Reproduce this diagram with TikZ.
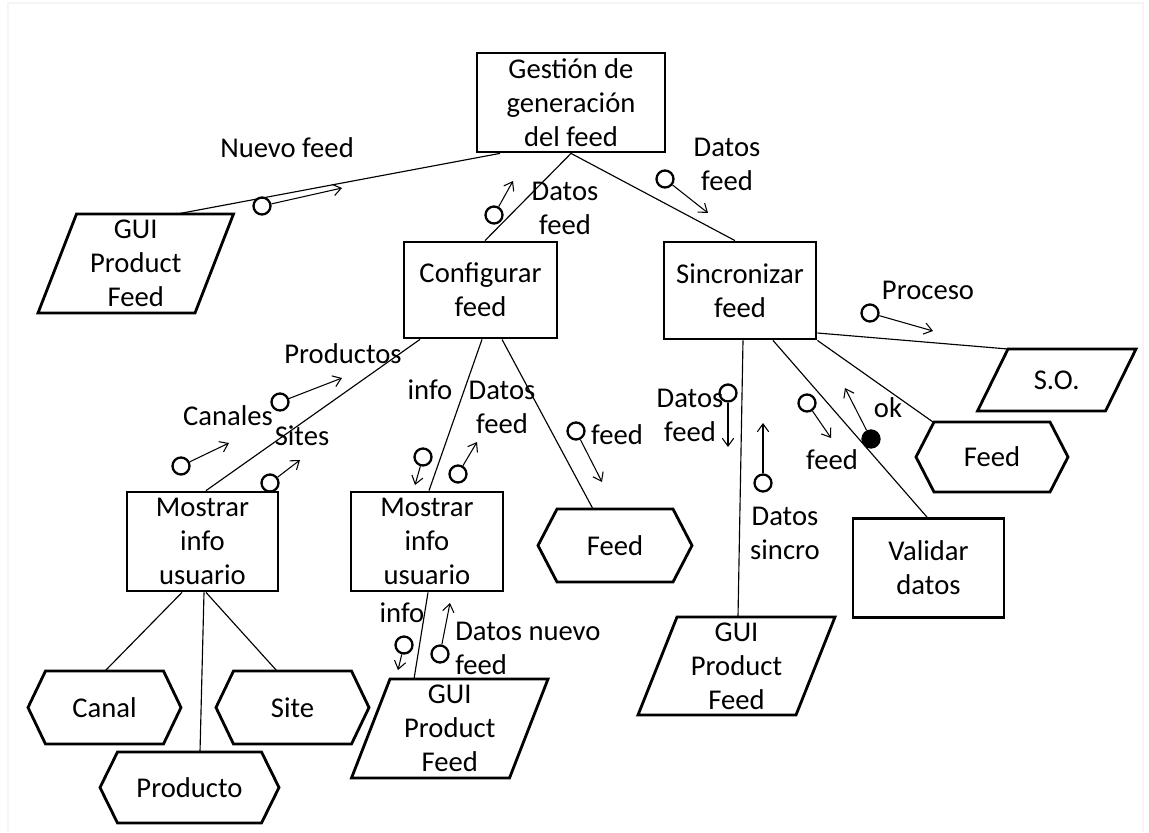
\documentclass[tikz,border=0pt]{standalone}
\usepackage{fontspec}
\setmainfont{Carlito}
\usetikzlibrary{calc,arrows.meta}

\newcommand{\lblfont}{\fontsize{16.3}{19.3}\selectfont}

% parallelogram around a node: name, half width, half height, half slant
\newcommand{\drawpgram}[4]{%
  \draw[outline] ($(#1.center)+(-#2+#4,-#3)$) -- ($(#1.center)+(#2+#4,-#3)$)
    -- ($(#1.center)+(#2-#4,#3)$) -- ($(#1.center)+(-#2-#4,#3)$) -- cycle;}
% hexagon around a node: name, half width, inset of the points, half height
\newcommand{\drawhexa}[4]{%
  \draw[outline] ($(#1.center)+(-#2,0)$) -- ($(#1.center)+(-#2+#3,-#4)$)
    -- ($(#1.center)+(#2-#3,-#4)$) -- ($(#1.center)+(#2,0)$)
    -- ($(#1.center)+(#2-#3,#4)$) -- ($(#1.center)+(-#2+#3,#4)$) -- cycle;}

\tikzset{
  outline/.style={line width=1.6pt, line join=miter},
  box/.style={draw, line width=1.6pt, align=center, inner sep=0pt, font=\lblfont},
  shapetext/.style={align=center, inner sep=0pt, font=\lblfont},
  lbl/.style={align=center, inner sep=0pt, font=\lblfont},
  conn/.style={line width=0.65pt},
  port/.style={circle, draw, line width=1.3pt, minimum size=0.34cm, inner sep=0pt},
  portfull/.style={port, fill=black},
  flow/.style={line width=0.6pt, -{Straight Barb[length=4.5pt,width=6.5pt]}},
}

\begin{document}
\begin{tikzpicture}[x=0.02cm, y=-0.02cm]
\useasboundingbox (0,0) rectangle (1149,832);
% faint page frame
\draw[black!4, line width=0.6pt] (8,832) -- (8,3) -- (1143,3) -- (1143,832);

% process boxes
\node[box, minimum width=3.76cm, minimum height=1.98cm] (gest) at (571,102.5) {Gestión de\\generación\\del feed};
\node[box, minimum width=3.06cm, minimum height=1.92cm] (conf) at (480.5,290) {Configurar\\feed};
\node[box, minimum width=3.04cm, minimum height=1.94cm] (sinc) at (740,290.5) {Sincronizar\\feed};
\node[box, minimum width=3.02cm, minimum height=1.98cm] (most1) at (202.5,541.5) {Mostrar\\info\\usuario};
\node[box, minimum width=3.04cm, minimum height=1.98cm] (most2) at (427,541.5) {Mostrar\\info\\usuario};
\node[box, minimum width=3.02cm, minimum height=1.98cm] (valid) at (928.5,568) {Validar\\datos};

% interfaces (parallelograms)
\node[shapetext] (gui1) at (135.75,263.5) {GUI\\Product\\Feed};
\drawpgram{gui1}{78.5}{49.5}{19.25}
\node[shapetext] (gui2) at (449.75,728.5) {GUI\\Product\\Feed};
\drawpgram{gui2}{79}{49.5}{19.25}
\node[shapetext] (gui3) at (736.5,666) {GUI\\Product\\Feed};
\drawpgram{gui3}{79}{49}{19.5}
\node[shapetext] (so) at (1056.75,380) {S.O.};
\drawpgram{so}{64}{31}{15.25}

% data stores (hexagons)
\node[shapetext] (canal) at (104.5,707.5) {Canal};
\drawhexa{canal}{76.5}{17.5}{36.5}
\node[shapetext] (site) at (292.5,707.5) {Site};
\drawhexa{site}{76.5}{17.5}{36.5}
\node[shapetext] (prod) at (189.5,787.5) {Producto};
\drawhexa{prod}{89.5}{17.5}{35.5}
\node[shapetext] (feedm) at (615,545.5) {Feed};
\drawhexa{feedm}{77}{19}{36.5}
\node[shapetext] (feedr) at (992,457) {Feed};
\drawhexa{feedr}{76}{18}{35}

% connectors
\draw[conn] ($(gest.south)+(-71,0)$) -- ($(gui1.center)+(41.25,-49.5)$);
\draw[conn] (gest.south) -- ($(conf.north)+(4.5,0)$);
\draw[conn] (gest.south) -- ($(sinc.north)+(-5,0)$);
\draw[conn] ($(conf.south)+(-60.5,0)$) -- ($(most1.north)+(3.5,0)$);
\draw[conn] ($(conf.south)+(1.5,0)$) -- ($(most2.north)+(2,0)$);
\draw[conn] ($(conf.south)+(21.5,0)$) -- ($(feedm.center)+(-22,-36.5)$);
\draw[conn] ($(most1.south)+(-20.5,0)$) -- ($(canal.center)+(0.5,-36.5)$);
\draw[conn] ($(most1.south)+(1.5,0)$) -- ($(prod.center)+(10.5,-35.5)$);
\draw[conn] ($(most1.south)+(3.5,0)$) -- ($(site.center)+(-15.5,-36.5)$);
\draw[conn] ($(most2.south)+(1,0)$) -- ($(gui2.center)+(-35.75,-49.5)$);
\draw[conn] ($(sinc.south)+(3,0)$) -- ($(gui3.center)+(1.5,-49)$);
\draw[conn] ($(sinc.south)+(33,0)$) -- ($(valid.north)+(-1.5,0)$);
\draw[conn] (sinc.south east) -- ($(feedr.center)+(-59,-35)$);
\draw[conn] ($(sinc.east)+(0,42.5)$) -- ($(so.center)+(-48.75,-31)$);

% data flows: port circle, arrow and label
\node[port] (c1) at (262,206) {};   \coordinate (t1) at (342,188);
\node[port] (c2) at (494,215) {};   \coordinate (t2) at (513,181);
\node[port] (c3) at (665,179) {};   \coordinate (t3) at (708,213);
\node[port] (c4) at (870,313) {};   \coordinate (t4) at (933,331);
\node[port] (c5) at (728,393) {};   \coordinate (t5) at (728,447);
\node[port] (c6) at (763,483) {};   \coordinate (t6) at (763,423);
\node[port] (c7) at (807,403) {};   \coordinate (t7) at (831,438);
\node[portfull] (c8) at (871,439) {}; \coordinate (t8) at (845,388);
\node[port] (c9) at (576,431) {};   \coordinate (t9) at (602,482);
\node[port] (c10) at (280,402) {};  \coordinate (t10) at (342,378);
\node[port] (c11) at (181,466) {};  \coordinate (t11) at (229,443);
\node[port] (c12) at (270,483) {};  \coordinate (t12) at (300,460);
\node[port] (c13) at (423,457) {};  \coordinate (t13) at (415,485);
\node[port] (c14) at (458,474) {};  \coordinate (t14) at (477,442);
\node[port] (c15) at (404,645) {};  \coordinate (t15) at (398,670);
\node[port] (c16) at (440,654) {};  \coordinate (t16) at (450,603);

\foreach \i in {1,...,16} { \draw[flow] (c\i) -- (t\i); }

\node[lbl] (l1) at (287,148) {Nuevo feed};
\node[lbl] (l2) at (565,208.5) {Datos\\feed};
\node[lbl] (l3) at (727,164) {Datos\\feed};
\node[lbl] (l4) at (928,290) {Proceso};
\node[lbl] (l5) at (690,415) {Datos\\feed};
\node[lbl] (l6) at (785,533) {Datos\\sincro};
\node[lbl] (l7) at (832,460) {feed};
\node[lbl] (l8) at (888,408) {ok};
\node[lbl] (l9) at (617,435) {feed};
\node[lbl] (l10) at (343,354) {Productos};
\node[lbl] (l11) at (228,416) {Canales};
\node[lbl] (l12) at (302,436) {Sites};
\node[lbl] (l13) at (430,390) {info};
\node[lbl] (l14) at (502,407) {Datos\\feed};
\node[lbl] (l15) at (402,613) {info};
\node[lbl, align=left, anchor=west] (l16) at (455,648.5) {Datos nuevo\\feed};
\end{tikzpicture}
\end{document}
